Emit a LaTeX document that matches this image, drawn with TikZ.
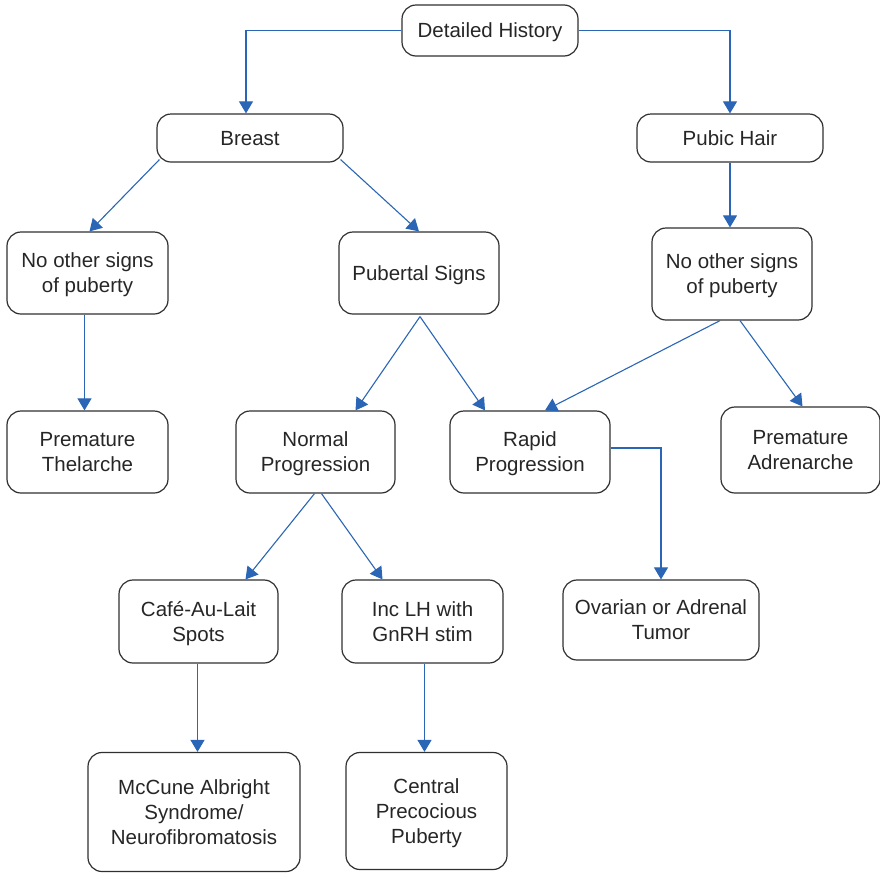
\documentclass[tikz,border=0pt]{standalone}
\usepackage{fontspec}
\setmainfont{Liberation Sans}
\usetikzlibrary{arrows.meta,calc}
\definecolor{arrblue}{HTML}{2A66B5}
\definecolor{boxline}{HTML}{303030}
\begin{document}
\begin{tikzpicture}[x=1pt,y=-1pt,
  box/.style={draw=boxline,line width=1.2pt,rounded corners=14pt,align=center,
    inner sep=0pt,text=black!85,font=\fontsize{20.5}{25}\selectfont,text depth=-1.5pt},
  arr/.style={draw=arrblue,line width=1.1pt,-{Triangle[length=12pt,width=14pt]}}]
\useasboundingbox (0,0) rectangle (880,873);
\node[box,minimum width=176pt,minimum height=51pt] (dh) at (490,30.5) {Detailed History};
\node[box,minimum width=186pt,minimum height=48pt] (breast) at (250,138) {Breast};
\node[box,minimum width=186pt,minimum height=48pt] (pubic) at (730,138) {Pubic Hair};
\node[box,minimum width=161pt,minimum height=82pt] (nol) at (87.5,273) {No other signs\\of puberty};
\node[box,minimum width=160pt,minimum height=82pt] (pub) at (419,273) {Pubertal Signs};
\node[box,minimum width=160pt,minimum height=92pt] (nor) at (732,274) {No other signs\\of puberty};
\node[box,minimum width=161pt,minimum height=82pt] (thel) at (87.5,452) {Premature\\Thelarche};
\node[box,minimum width=159pt,minimum height=82pt] (norm) at (315.5,452) {Normal\\Progression};
\node[box,minimum width=160pt,minimum height=82pt] (rapid) at (530,452) {Rapid\\Progression};
\node[box,minimum width=159pt,minimum height=86pt] (adr) at (800.5,450) {Premature\\Adrenarche};
\node[box,minimum width=159pt,minimum height=83pt] (cafe) at (198.5,621.5) {Café-Au-Lait\\Spots};
\node[box,minimum width=161pt,minimum height=83pt] (inc) at (422.5,621.5) {Inc LH with\\GnRH stim};
\node[box,minimum width=196pt,minimum height=80pt] (ova) at (661,620) {Ovarian or Adrenal\\Tumor};
\node[box,minimum width=212pt,minimum height=119pt] (mcc) at (194,812) {McCune Albright\\Syndrome/\\Neurofibromatosis};
\node[box,minimum width=161pt,minimum height=117pt] (cen) at (426.5,811) {Central\\Precocious\\Puberty};
% connectors
\draw[arr] (dh.west) -| ($(breast.north)+(-4,0)$);
\draw[arr] (dh.east) -| (pubic.north);
\draw[arr] ($(breast.south west)+(3,-3)$) -- ($(nol.north)+(2,0)$);
\draw[arr] ($(breast.south east)+(-3,-3)$) -- (pub.north);
\draw[arr] (pubic.south) -- (pubic.south |- nor.north);
\draw[arr] ($(nol.south)+(-3,0)$) -- ($(nol.south |- thel.north)+(-3,0)$);
\draw[arr] ($(pub.south)+(1,2)$) -- ($(norm.north)+(40,0)$);
\draw[arr] ($(pub.south)+(1,2)$) -- ($(rapid.north)+(-45,0)$);
\draw[arr] ($(nor.south)+(-12,0)$) -- ($(rapid.north)+(15,0)$);
\draw[arr] ($(nor.south)+(8,0)$) -- ($(adr.north)+(2,0)$);
\draw[arr] ($(norm.south)+(-1,0)$) -- ($(cafe.north)+(47,0)$);
\draw[arr] ($(norm.south)+(6,0)$) -- ($(inc.north)+(-40,0)$);
\draw[arr] ($(rapid.east)+(0,-4)$) -| (ova.north);
\draw[arr] ($(cafe.south)+(-1,0)$) -- ($(cafe.south |- mcc.north)+(-1,0)$);
\draw[arr] ($(inc.south)+(2,0)$) -- ($(inc.south |- cen.north)+(2,0)$);
\end{tikzpicture}
\end{document}
